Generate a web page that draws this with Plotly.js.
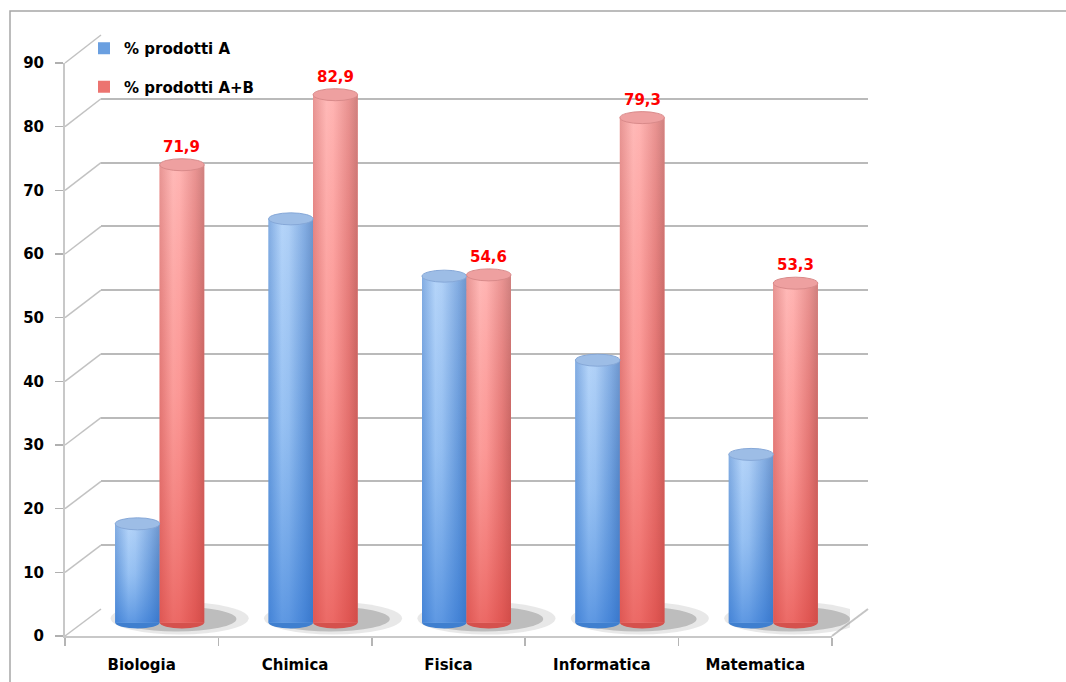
<!DOCTYPE html>
<html>
<head>
<meta charset="utf-8">
<script src="https://cdn.plot.ly/plotly-3.0.1.min.js"></script>
<style>html,body{margin:0;padding:0;background:#fff;}#chart{width:1066px;height:682px;}</style>
</head>
<body>
<div id="chart"></div>
<script>
// ---- data ----
const categories = ['Biologia', 'Chimica', 'Fisica', 'Informatica', 'Matematica'];
const pctA = [15.5, 63.4, 54.4, 41.2, 26.4];
const pctAB = [71.9, 82.9, 54.6, 79.3, 53.3];
const seriesNames = ['% prodotti A', '% prodotti A+B'];
const yTicks = [0, 10, 20, 30, 40, 50, 60, 70, 80, 90];

// ---- geometry (pixels) ----
const W = 1066, H = 682;
const L = 65, T = 35, B = 46;
const frontW = 767, depthX = 36, depthY = 27;
const plotW = frontW + depthX;          // 803
const frontH = 573;                      // 0..90 on front axis
const plotH = frontH + depthY + 1;       // 601
const R = W - L - plotW;
const pxPerUnit = frontH / 90;
const midX = 18, midY = 13.5;
const barW = 0.29;
const ellH = 6 / pxPerUnit;              // half-height of cylinder caps (data units)
const FONT = 'DejaVu Sans, Verdana, sans-serif';

const idx = categories.map((c, i) => i);

const styles = [
  { // blue
    base: '#6a9fe0',
    hScale: [[0, '#6d9edd'], [0.3, '#a8cdf8'], [0.45, '#a2c8f5'], [0.8, '#6f9fdd'], [1, '#5584c4']],
    vScale: [[0, 'rgba(35,110,210,0.55)'], [0.5, 'rgba(60,130,215,0.15)'], [1, 'rgba(255,255,255,0.15)']],
    cap: '#9dbde6', capLine: '#86a8d8', bottom: '#3f7fcf'
  },
  { // red
    base: '#ec7470',
    hScale: [[0, '#e27e7c'], [0.3, '#ffaaa8'], [0.45, '#ffa4a2'], [0.8, '#e47c7a'], [1, '#c56664']],
    vScale: [[0, 'rgba(220,55,50,0.55)'], [0.5, 'rgba(230,80,75,0.15)'], [1, 'rgba(255,255,255,0.18)']],
    cap: '#eea0a0', capLine: '#d98a8a', bottom: '#d5514d'
  }
];

const seriesVals = [pctA, pctAB];
const offsets = [-barW, 0];

const traces = [];
// empty carrier traces so the front-axis and back-wall subplots are drawn
traces.push({ type: 'scatter', mode: 'markers', x: [], y: [], xaxis: 'x', yaxis: 'y', showlegend: false, hoverinfo: 'skip' });
traces.push({ type: 'scatter', mode: 'markers', x: [], y: [], xaxis: 'x2', yaxis: 'y2', showlegend: false, hoverinfo: 'skip' });
// base bars (real data marks)
seriesVals.forEach((vals, s) => {
  traces.push({
    type: 'bar', x: idx, y: vals, name: seriesNames[s],
    width: barW, offset: offsets[s],
    marker: { color: styles[s].base, line: { width: 0 } },
    xaxis: 'x3', yaxis: 'y3', hoverinfo: 'skip',
    legendgroup: 'g' + s
  });
});
// cylinder shading overlays, derived from the same data
seriesVals.forEach((vals, s) => {
  vals.forEach((v, i) => {
    const x0 = i + offsets[s], x1 = x0 + barW;
    const px = [x0, x0, x1, x1, x0], py = [0, v, v, 0, 0];
    traces.push({
      type: 'scatter', mode: 'none', x: px, y: py, fill: 'toself',
      fillcolor: styles[s].base,
      fillgradient: { type: 'horizontal', colorscale: styles[s].hScale, start: x0, stop: x1 },
      xaxis: 'x3', yaxis: 'y3', showlegend: false, hoverinfo: 'skip'
    });
    traces.push({
      type: 'scatter', mode: 'none', x: px, y: py, fill: 'toself',
      fillcolor: 'rgba(0,0,0,0)',
      fillgradient: { type: 'vertical', colorscale: styles[s].vScale, start: 0, stop: v },
      xaxis: 'x3', yaxis: 'y3', showlegend: false, hoverinfo: 'skip'
    });
  });
});

const shapes = [];
// outer chart border
shapes.push({ type: 'rect', xref: 'paper', yref: 'paper',
  x0: (10 - L) / plotW, x1: (W + 20 - L) / plotW,
  y0: -(B + 30) / plotH, y1: (H - B - 11) / plotH,
  line: { color: '#a6a6a6', width: 1.5 }, fillcolor: 'rgba(0,0,0,0)', layer: 'below' });

// depth connectors from front axis ticks to back wall
const fy = t => (t / 90) * (frontH / plotH);
const by = t => depthY / plotH + (t / 90) * ((plotH - depthY) / plotH);
yTicks.forEach(t => {
  shapes.push({ type: 'line', xref: 'paper', yref: 'paper',
    x0: 0, y0: fy(t), x1: depthX / plotW, y1: by(t),
    line: { color: '#c2c2c2', width: 1.5 }, layer: 'below' });
});
// right floor edge
shapes.push({ type: 'line', xref: 'paper', yref: 'paper',
  x0: frontW / plotW, y0: 0, x1: 1, y1: depthY / plotH,
  line: { color: '#c4c4c4', width: 2 }, layer: 'below' });

// floor shadows, bottoms and caps
seriesVals[0].forEach((v, i) => {
  shapes.push({ type: 'circle', xref: 'x3', yref: 'y3', layer: 'between',
    x0: i - 0.32, x1: i + 0.58, y0: -1.9, y1: 3.2,
    fillcolor: 'rgba(150,150,150,0.22)', line: { width: 0 } });
  shapes.push({ type: 'circle', xref: 'x3', yref: 'y3', layer: 'between',
    x0: i - 0.28, x1: i + 0.5, y0: -1.4, y1: 2.5,
    fillcolor: 'rgba(110,110,110,0.35)', line: { width: 0 } });
});
seriesVals.forEach((vals, s) => {
  vals.forEach((v, i) => {
    const x0 = i + offsets[s], x1 = x0 + barW;
    shapes.push({ type: 'circle', xref: 'x3', yref: 'y3', layer: 'between',
      x0: x0, x1: x1, y0: -ellH, y1: ellH,
      fillcolor: styles[s].bottom, line: { width: 0 } });
    shapes.push({ type: 'circle', xref: 'x3', yref: 'y3', layer: 'above',
      x0: x0, x1: x1, y0: v - ellH, y1: v + ellH,
      fillcolor: styles[s].cap, line: { color: styles[s].capLine, width: 1 } });
  });
});

// value labels for A+B
const annotations = pctAB.map((v, i) => ({
  xref: 'x3', yref: 'y3', x: i + barW / 2, y: v + ellH,
  text: v.toFixed(1).replace('.', ','), showarrow: false,
  yanchor: 'bottom', yshift: 1,
  font: { family: FONT, size: 15, color: '#ff0000', weight: 'bold' }
}));

const tickFont = { family: FONT, size: 15, color: '#000000', weight: 'bold' };

const layout = {
  width: W, height: H,
  margin: { l: L, r: R, t: T, b: B, pad: 0 },
  paper_bgcolor: '#ffffff', plot_bgcolor: 'rgba(0,0,0,0)',
  barmode: 'overlay',
  showlegend: true,
  legend: {
    x: (84 - L) / plotW, y: 1.005, xanchor: 'left', yanchor: 'top',
    bgcolor: 'rgba(0,0,0,0)', font: { family: FONT, size: 15, color: '#000', weight: 'bold' },
    traceorder: 'grouped', tracegroupgap: 16, itemwidth: 30
  },
  // front axes: labels, ticks, front edges
  xaxis: {
    domain: [0, frontW / plotW], range: [-0.5, 4.5], anchor: 'y',
    tickvals: idx, ticktext: categories, ticks: '', showgrid: false, zeroline: false,
    showline: true, linecolor: '#c8c8c8', linewidth: 2,
    minor: { tickvals: [-0.5, 0.5, 1.5, 2.5, 3.5, 4.5], ticks: 'outside', ticklen: 8, tickcolor: '#b5b5b5', tickwidth: 1.5, showgrid: false },
    tickfont: tickFont, ticklabelstandoff: 14, fixedrange: true
  },
  yaxis: {
    domain: [0, frontH / plotH], range: [0, 90], anchor: 'x',
    tickvals: yTicks, ticks: 'outside', ticklen: 8, tickcolor: '#b0b0b0', tickwidth: 1.5,
    showgrid: false, zeroline: false, showline: true, linecolor: '#c8c8c8', linewidth: 2,
    tickfont: tickFont, ticklabelstandoff: 8, fixedrange: true
  },
  // back wall grid
  xaxis2: {
    domain: [depthX / plotW, 1], range: [-0.5, 4.5], anchor: 'y2',
    showticklabels: false, ticks: '', showgrid: false, zeroline: false, showline: false
  },
  yaxis2: {
    domain: [depthY / plotH, 1], range: [0, 90], anchor: 'x2',
    tickvals: yTicks, showticklabels: false, ticks: '',
    showgrid: true, gridcolor: '#bababa', gridwidth: 2, zeroline: false, showline: false
  },
  // bars at mid depth
  xaxis3: {
    domain: [midX / plotW, (frontW + midX) / plotW], range: [-0.5, 4.5], anchor: 'y3',
    showticklabels: false, ticks: '', showgrid: false, zeroline: false, showline: false
  },
  yaxis3: {
    domain: [0, (frontH + midY) / plotH], range: [-midY / pxPerUnit, 90], anchor: 'x3',
    showticklabels: false, ticks: '', showgrid: false, zeroline: false, showline: false
  },
  shapes: shapes,
  annotations: annotations
};

Plotly.newPlot('chart', traces, layout, { staticPlot: true, displayModeBar: false });
</script>
</body>
</html>
